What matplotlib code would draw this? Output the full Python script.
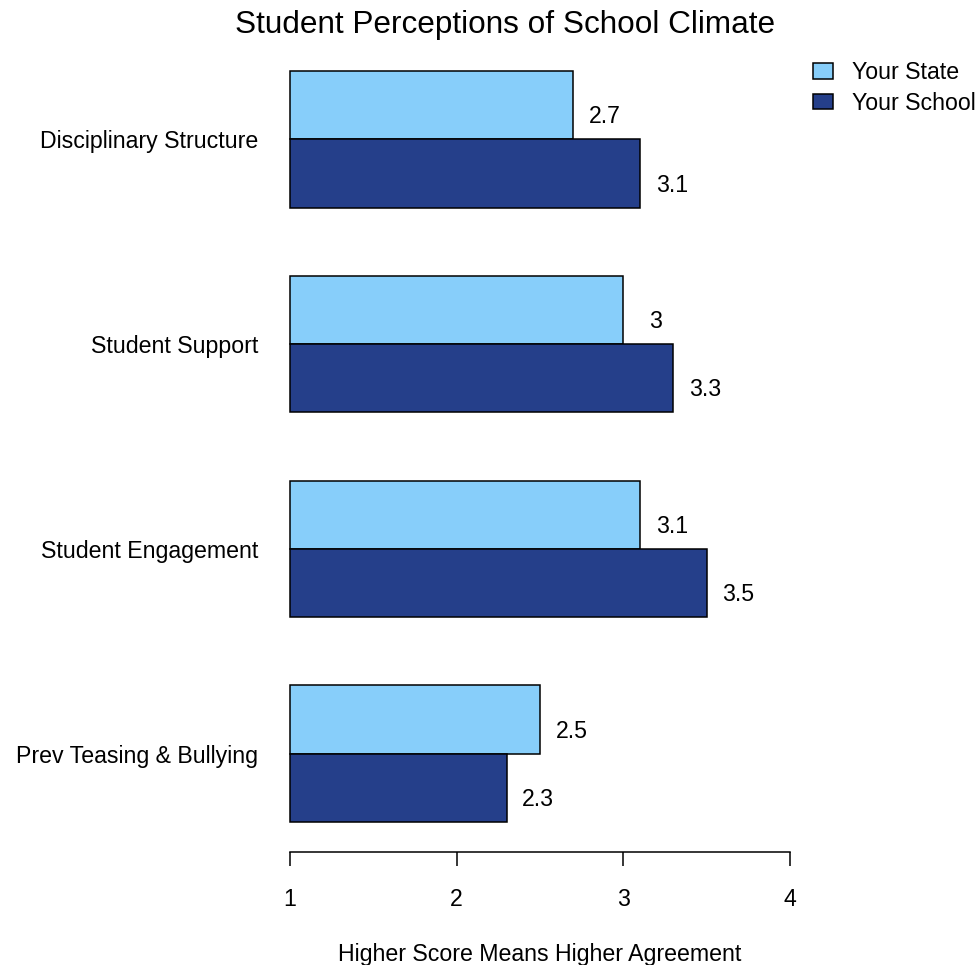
import matplotlib.pyplot as plt
import numpy as np

plt.rcParams['font.family'] = ['Liberation Sans', 'DejaVu Sans']

# данные
categories = ['Disciplinary Structure', 'Student Support',
              'Student Engagement', 'Prev Teasing & Bullying']
state_vals = [2.7, 3.0, 3.1, 2.5]
school_vals = [3.1, 3.3, 3.5, 2.3]
value_labels_state = ['2.7', '3', '3.1', '2.5']
value_labels_school = ['3.1', '3.3', '3.5', '2.3']
series_names = ['Your State', 'Your School']
x_ticks = [1, 2, 3, 4]

col_state = '#87CEFA'
col_school = '#253F8A'
fs = 16.7

fig = plt.figure(figsize=(9.8, 9.65), dpi=100)
ax = fig.add_axes([270 / 980, 113 / 965, 540 / 980, 811 / 965])

n = len(categories)
top = 3 * n
state_y = np.array([top - 3 * i - 0.5 for i in range(n)])
school_y = state_y - 1

base = 1.0
ax.barh(state_y, np.array(state_vals) - base, left=base, height=1.0,
        color=col_state, edgecolor='black', linewidth=1.1, label=series_names[0])
ax.barh(school_y, np.array(school_vals) - base, left=base, height=1.0,
        color=col_school, edgecolor='black', linewidth=1.1, label=series_names[1])

# подписи значений
for y, v, t in zip(state_y, state_vals, value_labels_state):
    ax.text(v + 0.19, y - 0.17, t, ha='center', va='center', fontsize=fs)
for y, v, t in zip(school_y, school_vals, value_labels_school):
    ax.text(v + 0.19, y - 0.17, t, ha='center', va='center', fontsize=fs)

ax.set_xlim(0.88, 4.12)
ax.set_ylim(0.56, 12.44)

for s in ['top', 'right', 'left']:
    ax.spines[s].set_visible(False)
ax.spines['bottom'].set_bounds(1, 4)
ax.spines['bottom'].set_linewidth(1.1)

ax.set_xticks(x_ticks)
ax.set_xticklabels([str(t) for t in x_ticks], fontsize=fs)
ax.tick_params(axis='x', direction='out', length=10, width=1.1, pad=16)

ax.set_yticks(state_y - 0.5)
ax.set_yticklabels(categories, fontsize=fs)
ax.tick_params(axis='y', length=0, pad=8.5)

fig.text(235 / 980, 1 - 25 / 965, 'Student Perceptions of School Climate',
         ha='left', va='center', fontsize=22.7)
fig.text(540 / 980, 4 / 965, 'Higher Score Means Higher Agreement',
         ha='center', va='baseline', fontsize=fs)

ax.legend(loc='upper left', bbox_to_anchor=(813 / 980, 1 - 61 / 965),
          bbox_transform=fig.transFigure, frameon=False, fontsize=fs,
          borderaxespad=0, borderpad=0, handlelength=0.85, handleheight=0.64,
          handletextpad=0.85, labelspacing=0.34)

fig.savefig('out.png', dpi=100)
